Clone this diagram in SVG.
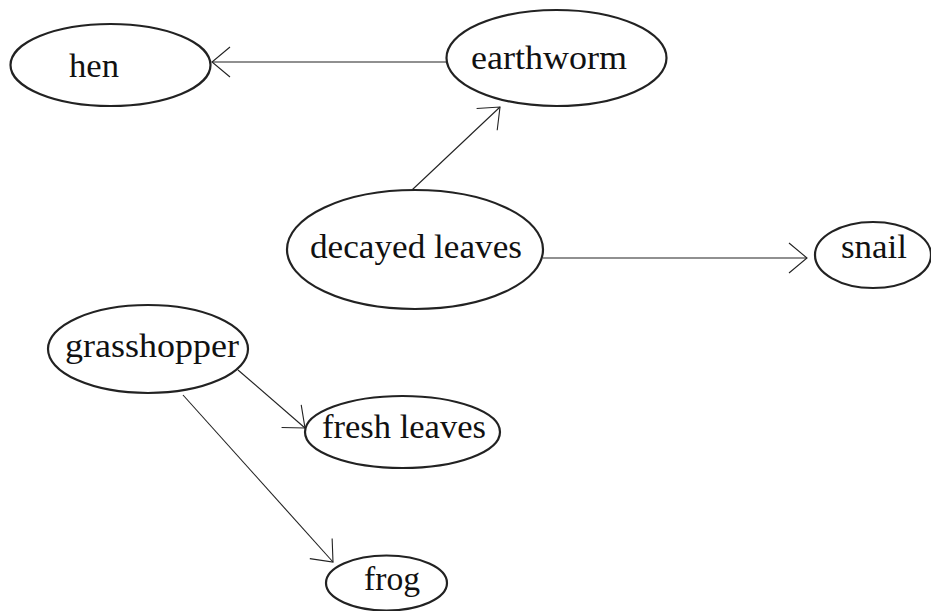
<svg xmlns="http://www.w3.org/2000/svg" width="931" height="611" viewBox="0 0 931 611">
<style>
.node ellipse{fill:#fff;stroke:#222;stroke-width:2.2}
.node text{font-family:"Liberation Serif","Times New Roman",serif;font-size:34px;fill:#111;text-anchor:start}
.edge{fill:none;stroke:#222;stroke-width:1.1}
</style>
<defs>
<marker id="arr" markerUnits="userSpaceOnUse" viewBox="0 0 20 32" refX="19" refY="16" markerWidth="20" markerHeight="32" orient="auto">
<path d="M1,1 L19,16 L1,31" fill="none" stroke="#222" stroke-width="1.1"/>
</marker>
</defs>
<rect width="931" height="611" fill="#fff"/>
<g id="connectors">
<path class="edge" d="M447,62 L212,62" marker-end="url(#arr)"/>
<path class="edge" d="M412,190 L500,107" marker-end="url(#arr)"/>
<path class="edge" d="M543,258 L807,258" marker-end="url(#arr)"/>
<path class="edge" d="M238,370 L305,428" marker-end="url(#arr)"/>
<path class="edge" d="M183,395 L333,562" marker-end="url(#arr)"/>
</g>
<g id="hen" class="node">
<ellipse cx="110.5" cy="65" rx="100" ry="41"/>
<text x="69" y="77" textLength="50" lengthAdjust="spacingAndGlyphs">hen</text>
</g>
<g id="earthworm" class="node">
<ellipse cx="556.5" cy="58" rx="110" ry="48"/>
<text x="471" y="69" textLength="156" lengthAdjust="spacingAndGlyphs">earthworm</text>
</g>
<g id="decayed-leaves" class="node">
<ellipse cx="415" cy="249.5" rx="128" ry="59.5"/>
<text x="310" y="258" textLength="212" lengthAdjust="spacingAndGlyphs">decayed leaves</text>
</g>
<g id="snail" class="node">
<ellipse cx="873" cy="255" rx="58" ry="33"/>
<text x="841" y="258" textLength="66" lengthAdjust="spacingAndGlyphs">snail</text>
</g>
<g id="grasshopper" class="node">
<ellipse cx="148" cy="349" rx="100" ry="44"/>
<text x="65" y="357" textLength="174" lengthAdjust="spacingAndGlyphs">grasshopper</text>
</g>
<g id="fresh-leaves" class="node">
<ellipse cx="402.5" cy="432" rx="97.5" ry="36"/>
<text x="322" y="438" textLength="164" lengthAdjust="spacingAndGlyphs">fresh leaves</text>
</g>
<g id="frog" class="node">
<ellipse cx="386.5" cy="583" rx="60.5" ry="27.5"/>
<text x="364" y="590" textLength="56" lengthAdjust="spacingAndGlyphs">frog</text>
</g>
</svg>
